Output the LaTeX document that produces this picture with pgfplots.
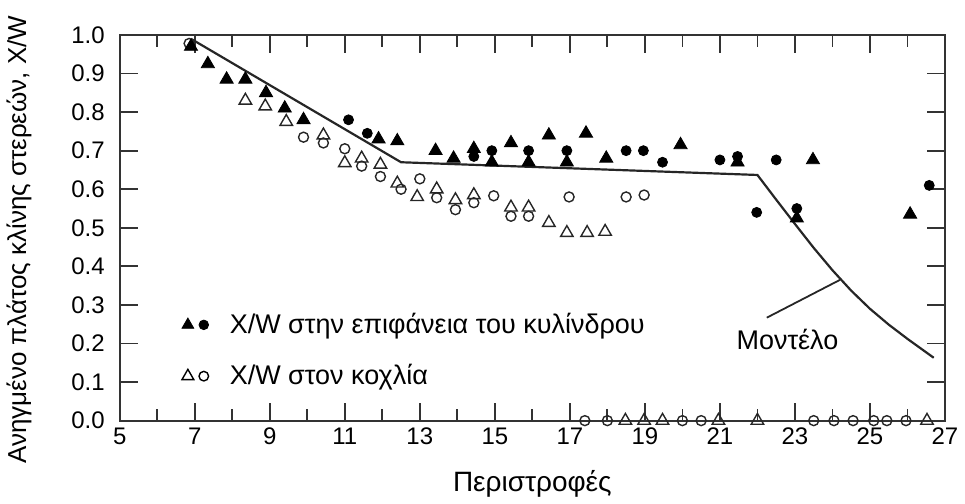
\documentclass[border=0pt]{standalone}
\usepackage{fontspec}
\setmainfont{Liberation Sans}
\setsansfont{Liberation Sans}
\usepackage{pgfplots}
\pgfplotsset{compat=1.18}

% X/W measured at the cylinder surface (filled marks)
\pgfplotstableread{
x y
6.9 0.97
7.35 0.925
7.85 0.885
8.35 0.885
8.9 0.85
9.4 0.81
9.9 0.78
11.9 0.73
12.4 0.725
13.42 0.70
13.9 0.68
14.44 0.705
14.92 0.67
15.43 0.72
15.9 0.67
16.44 0.74
16.92 0.67
17.43 0.745
17.97 0.68
19.95 0.715
21.47 0.67
23.48 0.676
23.05 0.525
26.07 0.535
}\surftri
\pgfplotstableread{
x y
11.1 0.78
11.6 0.745
14.44 0.685
14.92 0.70
15.9 0.70
16.92 0.70
18.5 0.70
18.96 0.70
19.47 0.67
21.0 0.676
21.47 0.685
22.5 0.676
21.98 0.54
23.05 0.55
26.58 0.61
}\surfcirc
% X/W in the screw channel (open marks)
\pgfplotstableread{
x y
8.35 0.83
8.88 0.815
9.44 0.775
10.43 0.74
11.0 0.668
11.45 0.68
11.95 0.664
12.4 0.615
12.93 0.58
13.45 0.60
13.95 0.572
14.44 0.585
15.43 0.553
15.9 0.553
16.44 0.513
16.92 0.487
17.46 0.487
17.94 0.49
18.48 0.0
18.98 0.0
19.47 0.0
20.96 0.0
22.0 0.0
26.52 0.0
}\chantri
\pgfplotstableread{
x y
6.85 0.978
9.9 0.735
10.43 0.72
11.0 0.705
11.45 0.66
11.95 0.633
12.5 0.60
13.0 0.627
13.45 0.578
13.95 0.547
14.44 0.565
14.97 0.583
15.43 0.53
15.9 0.53
16.98 0.58
18.5 0.58
18.98 0.585
17.4 0.0
18.0 0.0
20.0 0.0
20.5 0.0
23.5 0.0
24.04 0.0
24.55 0.0
25.1 0.0
25.45 0.0
25.96 0.0
}\chancirc
\pgfplotstableread{
x y
6.9 0.99
12.5 0.67
22.0 0.637
22.5 0.573
23.0 0.51
23.5 0.448
24.0 0.39
24.5 0.337
25.0 0.29
25.5 0.249
26.0 0.212
26.7 0.163
}\model

\begin{document}
\begin{tikzpicture}
\begin{axis}[
    scale only axis,
    width=413pt, height=193pt,
    xmin=5, xmax=27, ymin=0, ymax=1,
    xtick={5,7,...,27},
    minor xtick={6,8,...,26},
    ytick={0,0.1,...,1.0},
    tick align=inside,
    major tick length=9pt,
    minor tick length=6pt,
    tick style={line width=0.9pt, color=black!80},
    axis line style={line width=1pt, color=black!80},
    clip=false,
    ticklabel style={font=\fontsize{12}{14}\selectfont},
    yticklabel style={/pgf/number format/.cd, fixed, fixed zerofill, precision=1, assume math mode=true, /tikz/.cd, xshift=-4pt},
    xticklabel style={/pgf/number format/assume math mode=true},
    xlabel={Περιστροφές},
    ylabel={Ανηγμένο πλάτος κλίνης στερεών, X/W},
    xlabel style={font=\fontsize{14}{16}\selectfont, yshift=-6pt},
    ylabel style={font=\fontsize{13}{15}\selectfont, yshift=13pt, xshift=-6pt},
    legend style={draw=none, fill=none, at={(0.075,0.29)}, anchor=north west,
        font=\fontsize{13.5}{15}\selectfont, row sep=10pt, inner sep=0pt},
    legend cell align=left,
]
\addlegendimage{legend image code/.code={
    \draw[black, mark=triangle*, mark size=3.4pt, mark options={fill=black}] plot coordinates {(0.12cm,0cm)};
    \draw[black, mark=*, mark size=2.4pt] plot coordinates {(0.4cm,0cm)};
    \path (0.78cm,0cm);}}
\addlegendimage{legend image code/.code={
    \draw[black, mark=triangle, mark size=3.4pt, mark options={fill=white, line width=0.7pt}] plot coordinates {(0.12cm,0cm)};
    \draw[black, mark=o, mark size=2.4pt, mark options={fill=white, line width=0.7pt}] plot coordinates {(0.4cm,0cm)};
    \path (0.78cm,0cm);}}
\legend{X/W στην επιφάνεια του κυλίνδρου, X/W στον κοχλία}

\addplot[black!85, line width=1.1pt] table {\model};
\addplot[black!85, line width=0.9pt] coordinates {(22.25,0.267) (24.2,0.365)};
\addplot[only marks, mark=o, mark size=2.5pt, mark options={draw=black!85, fill=white, line width=0.7pt}] table {\chancirc};
\addplot[only marks, mark=triangle, mark size=3.6pt, mark options={draw=black!85, fill=white, line width=0.7pt}] table {\chantri};
\addplot[only marks, mark=*, mark size=2.5pt, mark options={draw=black, fill=black}] table {\surfcirc};
\addplot[only marks, mark=triangle*, mark size=3.8pt, mark options={draw=black, fill=black}] table {\surftri};
\node[font=\fontsize{13.5}{15}\selectfont] at (axis cs:22.8,0.21) {Μοντέλο};
\coordinate (topleft) at (rel axis cs:0,1);
\end{axis}
\path (topleft) ++(0pt,17.5pt);
\end{tikzpicture}
\end{document}
